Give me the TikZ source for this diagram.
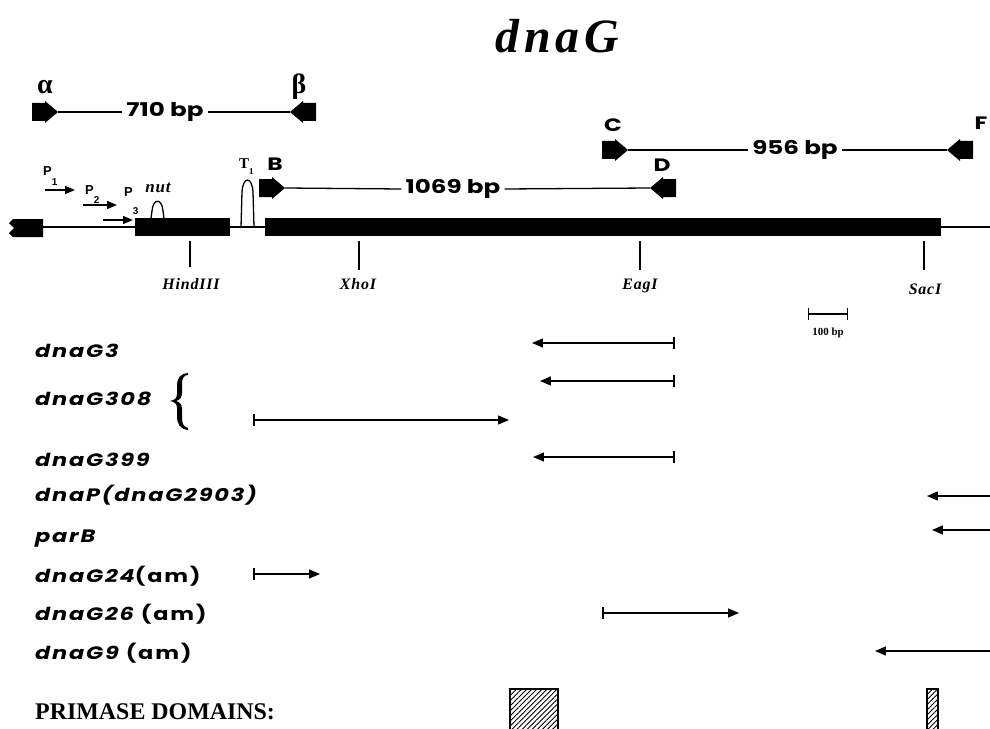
\documentclass[tikz,border=0pt]{standalone}
\usepackage{fontspec}
\setmainfont{Liberation Serif}
\newfontfamily\gfont[FakeStretch=1.25,LetterSpace=10]{Poppins}
\newfontfamily\bpfont[FakeStretch=1.3]{Poppins}
\newfontfamily\titlefont[LetterSpace=10]{Liberation Serif}
\newfontfamily\sitefont[LetterSpace=5]{Liberation Serif}
\newfontfamily\pfont{Liberation Sans}
\usetikzlibrary{arrows.meta,patterns.meta}
\tikzset{
  blockR/.pic={\fill (0,0)--(-13,-11)--(-13,-9)--(-26,-9)--(-26,9)--(-13,9)--(-13,11)--cycle;},
  blockL/.pic={\fill (0,0)--(13,-11)--(13,-9)--(26,-9)--(26,9)--(13,9)--(13,11)--cycle;},
  span/.style={line width=1.3},
  bptext/.style={font=\fontsize{19}{19}\bpfont\bfseries, inner sep=4pt},
  letter/.style={font=\fontsize{18}{18}\bpfont\bfseries, inner sep=0},
  sitelab/.style={font=\fontsize{16}{16}\sitefont\bfseries\itshape, anchor=base, inner sep=0},
  site/.style={line width=1.3},
  rowlab/.style={font=\fontsize{18}{20}\gfont\bfseries\itshape, anchor=base west, inner sep=0},
  mut/.style={line width=1.4, {Bar[width=13pt,line width=1.6pt]}-{Triangle[length=11pt,width=9pt]}},
  mutopen/.style={line width=1.4, -{Triangle[length=11pt,width=9pt]}},
  prom/.style={line width=1.4, -{Triangle[length=10pt,width=8pt]}},
  plab/.style={font=\fontsize{13}{13}\pfont\bfseries, anchor=base west, inner sep=0},
  hatchbox/.style={draw, line width=1.4, pattern={Lines[angle=45,distance=3.6pt,line width=0.9pt]}}
}
\begin{document}
\begin{tikzpicture}[x=1bp,y=-1bp]
\path[use as bounding box] (0,0) rectangle (990,729);
\fill[white] (0,0) rectangle (990,729);
\clip (0,0) rectangle (990,729);

% title
\node[font=\fontsize{48}{48}\titlefont\bfseries\itshape, anchor=base, inner sep=0] (title) at (557,53) {dnaG};

% 710 bp
\node[font=\fontsize{28}{28}\bfseries, inner sep=0] (alpha) at (45,87) {α};
\node[font=\fontsize{28}{28}\bfseries, inner sep=0] (beta) at (299,87) {β};
\pic at (58,112) {blockR};
\pic at (290,112) {blockL};
\coordinate (atip) at (58,112);
\coordinate (btip) at (290,112);
\node[bptext] (t710) at (165,112) {710 bp};
\draw[span] (atip) -- (t710.west);
\draw[span] (t710.east) -- (btip);

% 956 bp
\node[letter] (C) at (613,125) {C};
\node[letter] (F) at (981,123) {F};
\pic at (628,150) {blockR};
\pic at (947,150) {blockL};
\coordinate (ctip) at (628,150);
\coordinate (ftip) at (947,150);
\node[bptext] (t956) at (795,150) {956 bp};
\draw[span] (ctip) -- (t956.west);
\draw[span] (t956.east) -- (ftip);

% 1069 bp
\node[letter] (B) at (275,164) {B};
\node[letter] (D) at (662,165) {D};
\pic at (285,188) {blockR};
\pic at (650,188) {blockL};
\coordinate (Btip) at (285,188);
\coordinate (Dtip) at (650,188);
\node[bptext] (t1069) at (453,189) {1069 bp};
\draw[span] (Btip) -- (t1069.west);
\draw[span] (t1069.east) -- (Dtip);

% main map
\draw[line width=1.5] (43,227) -- (135,227);
\draw[line width=1.5] (230,227) -- (265,227);
\draw[line width=1.5] (941,227) -- (990,227);
\fill (43,219) -- (13,219) -- (9,223) -- (14,228) -- (9,233) -- (13,237) -- (43,237) -- cycle;
\fill (135,218) rectangle (230,236);
\fill (265,218) rectangle (941,236);

% nut and T1
\draw[line width=1.3] (151,218) -- (152,211) .. controls (153,198) and (162,198) .. (163,211) -- (164,218);
\node[font=\fontsize{17}{17}\sitefont\bfseries\itshape, anchor=base, inner sep=0] (nut) at (158,193) {nut};
\draw[line width=1.3] (241,227) -- (242,192) .. controls (243,176) and (252,176) .. (253,192) -- (254,227);
\node[font=\fontsize{15}{15}\bfseries, anchor=base west, inner sep=0] (T1) at (239,169) {T\raisebox{-0.35em}{\fontsize{9}{9}\selectfont 1}};

% promoters
\draw[prom] (45,190) -- (75,190);
\draw[prom] (83,205) -- (117,205);
\draw[prom] (103,220) -- (133,220);
\node[plab] (P1) at (43,176) {P\raisebox{-0.7em}{\fontsize{10}{10}\selectfont 1}};
\node[plab] (P2) at (85,195) {P\raisebox{-0.65em}{\fontsize{10}{10}\selectfont 2}};
\node[plab] (P3) at (124,197) {P\raisebox{-1.35em}{\fontsize{10}{10}\selectfont 3}};

% restriction sites
\draw[site] (190,241) -- (190,267);
\draw[site] (359,241) -- (359,270);
\draw[site] (640,241) -- (640,270);
\draw[site] (924,241) -- (924,270);
\node[sitelab] (hind) at (191,289) {HindIII};
\node[sitelab] (xho) at (358,289) {XhoI};
\node[sitelab] (eag) at (640,289) {EagI};
\node[sitelab] (sac) at (925,294) {SacI};

% scale bar
\draw[line width=1.2, {Bar[width=12pt,line width=1.3pt]}-{Bar[width=12pt,line width=1.3pt]}] (808,314) -- (848,314);
\node[font=\fontsize{11}{11}\selectfont\bfseries, inner sep=0] (scale) at (828,333) {100 bp};

% mutation rows
\node[rowlab] (g3) at (35,357) {dnaG3};
\node[rowlab] (g308) at (35,405) {dnaG308};
\node[rowlab] (g399) at (35,466) {dnaG399};
\node[rowlab] (gP) at (35,501) {dnaP(dnaG2903)};
\node[rowlab] (gpar) at (35,542) {parB};
\node[rowlab] (g24) at (35,582) {dnaG24\upshape(am)};
\node[rowlab] (g26) at (35,620) {dnaG26 \upshape(am)};
\node[rowlab] (g9) at (35,659) {dnaG9 \upshape(am)};

% brace
\fill (188,373) .. controls (180,374) and (177,378) .. (177,386)
  -- (177,394) .. controls (177,398) and (175,400) .. (170,401)
  .. controls (175,402) and (177,404) .. (177,408)
  -- (177,416) .. controls (177,424) and (180,429) .. (188,430)
  -- (188,428) .. controls (184,427) and (182,424) .. (182,418)
  -- (182,409) .. controls (182,405) and (180,402) .. (176,401)
  .. controls (180,400) and (182,397) .. (182,393)
  -- (182,384) .. controls (182,378) and (184,375) .. (188,375) -- cycle;

\draw[mut] (675,343) -- (532,343);
\draw[mut] (675,381) -- (540,381);
\draw[mut] (253,420) -- (509,420);
\draw[mut] (675,457) -- (533,457);
\draw[mutopen] (995,496) -- (927,496);
\draw[mutopen] (995,530) -- (932,530);
\draw[mut] (253,574) -- (320,574);
\draw[mut] (602,613) -- (739,613);
\draw[mutopen] (995,651) -- (875,651);

% primase domains
\node[font=\fontsize{24}{24}\selectfont\bfseries, anchor=base west, inner sep=0] (prim) at (35,719) {PRIMASE DOMAINS:};
\draw[hatchbox] (510,689) rectangle (558,735);
\draw[hatchbox] (927,689) rectangle (938,735);
\end{tikzpicture}
\end{document}
